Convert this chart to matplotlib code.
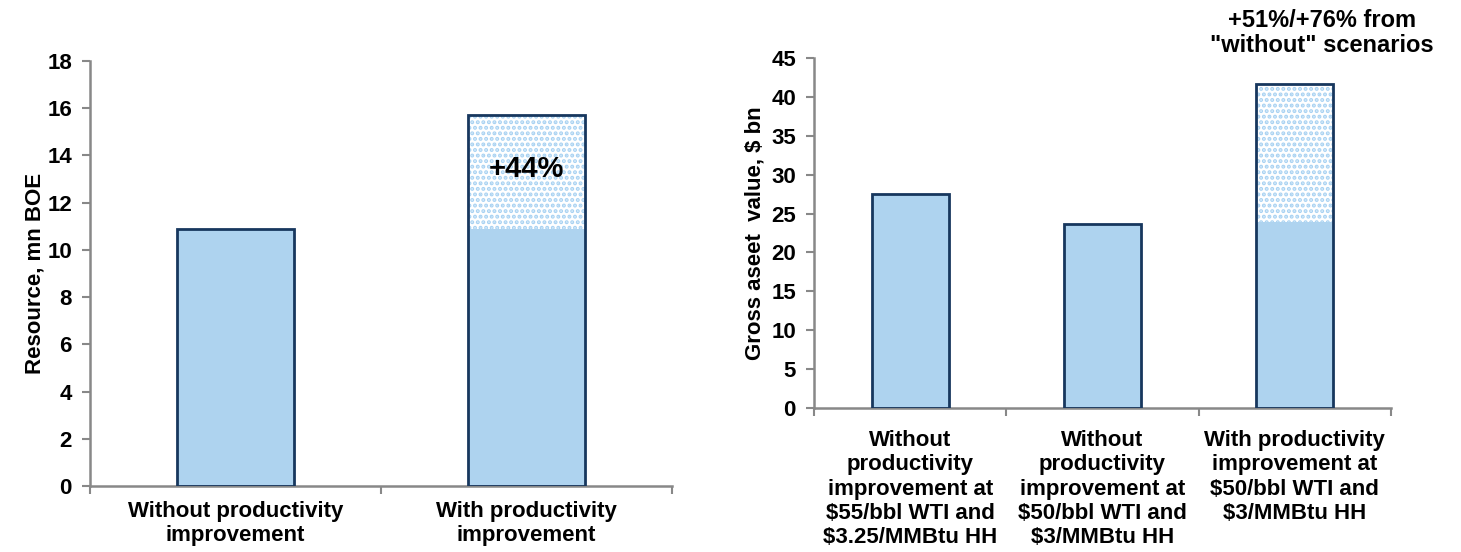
import matplotlib
matplotlib.use("Agg")
import matplotlib.pyplot as plt

plt.rcParams['font.family'] = ['Liberation Sans', 'DejaVu Sans']
plt.rcParams['font.weight'] = 'bold'
plt.rcParams['hatch.linewidth'] = 2.0

# ---- data ----
left_categories = ["Without productivity\nimprovement", "With productivity\nimprovement"]
left_base = [10.9, 10.9]
left_increment = [0.0, 4.8]
left_yticks = [0, 2, 4, 6, 8, 10, 12, 14, 16, 18]
left_note = "+44%"

right_categories = ["Without\nproductivity\nimprovement at\n$55/bbl WTI and\n$3.25/MMBtu HH",
                    "Without\nproductivity\nimprovement at\n$50/bbl WTI and\n$3/MMBtu HH",
                    "With productivity\nimprovement at\n$50/bbl WTI and\n$3/MMBtu HH"]
right_base = [27.5, 23.7, 23.9]
right_increment = [0.0, 0.0, 17.8]
right_yticks = [0, 5, 10, 15, 20, 25, 30, 35, 40, 45]
right_note = "+51%/+76% from\n\"without\" scenarios"

FILL = "#AED3EF"
EDGE = "#17375E"
DOT = "#A8D2F2"
SPINE = "#888888"
FS = 16

W, H = 1461, 552
fig = plt.figure(figsize=(W / 100, H / 100), dpi=100)

def axrect(x0, x1, ytop, ybot):
    return [x0 / W, 1 - ybot / H, (x1 - x0) / W, (ybot - ytop) / H]

def style(ax, yticks, ymax, ncat, xpad):
    for s in ("top", "right"):
        ax.spines[s].set_visible(False)
    for s in ("left", "bottom"):
        ax.spines[s].set_color(SPINE)
        ax.spines[s].set_linewidth(1.8)
    ax.set_ylim(0, ymax)
    ax.set_yticks(yticks)
    ax.set_xlim(-0.5, ncat - 0.5)
    ax.tick_params(axis='y', direction='out', length=6, width=1.5, color=SPINE,
                   labelsize=FS, pad=7)
    # category boundaries as ticks
    ax.set_xticks([i - 0.5 for i in range(ncat + 1)])
    ax.set_xticklabels([])
    ax.tick_params(axis='x', which='major', direction='out', length=6, width=1.5,
                   color=SPINE)
    ax.set_xticks(range(ncat), minor=True)
    ax.tick_params(axis='x', which='minor', length=0, labelsize=FS, pad=xpad)
    for lbl in ax.get_yticklabels():
        lbl.set_fontweight('bold')

def draw_bars(ax, base, inc, categories):
    x = list(range(len(base)))
    total = [b + i for b, i in zip(base, inc)]
    ax.bar(x, base, width=0.4, color=FILL, linewidth=0, zorder=2)
    ax.bar(x, inc, width=0.4, bottom=base, color="white", edgecolor=DOT,
           linewidth=0, hatch="...", zorder=2)
    ax.bar(x, total, width=0.4, color="none", edgecolor=EDGE, linewidth=2.0, zorder=3)
    ax.set_xticklabels(categories, minor=True, fontweight='bold', linespacing=1.13)

# ---- left chart ----
ax1 = fig.add_axes(axrect(90, 672, 61, 486))
draw_bars(ax1, left_base, left_increment, left_categories)
style(ax1, left_yticks, 18, len(left_categories), 11)
ax1.set_ylabel("Resource, mn BOE", fontsize=FS, fontweight='bold', labelpad=1)
ax1.text(1, left_base[1] + left_increment[1] * 0.53, left_note, ha='center', va='center',
         fontsize=21, fontweight='bold', zorder=4)

# ---- right chart ----
ax2 = fig.add_axes(axrect(814, 1391, 58, 408))
draw_bars(ax2, right_base, right_increment, right_categories)
style(ax2, right_yticks, 45, len(right_categories), 16)
ax2.set_ylabel("Gross aseet  value, \\$ bn", fontsize=FS, fontweight='bold', labelpad=4)
fig.text(1322 / W, 1 - 33 / H, right_note, ha='center', va='center',
         fontsize=17, fontweight='bold', linespacing=1.12)

fig.savefig("out.png", dpi=100, facecolor="white")
